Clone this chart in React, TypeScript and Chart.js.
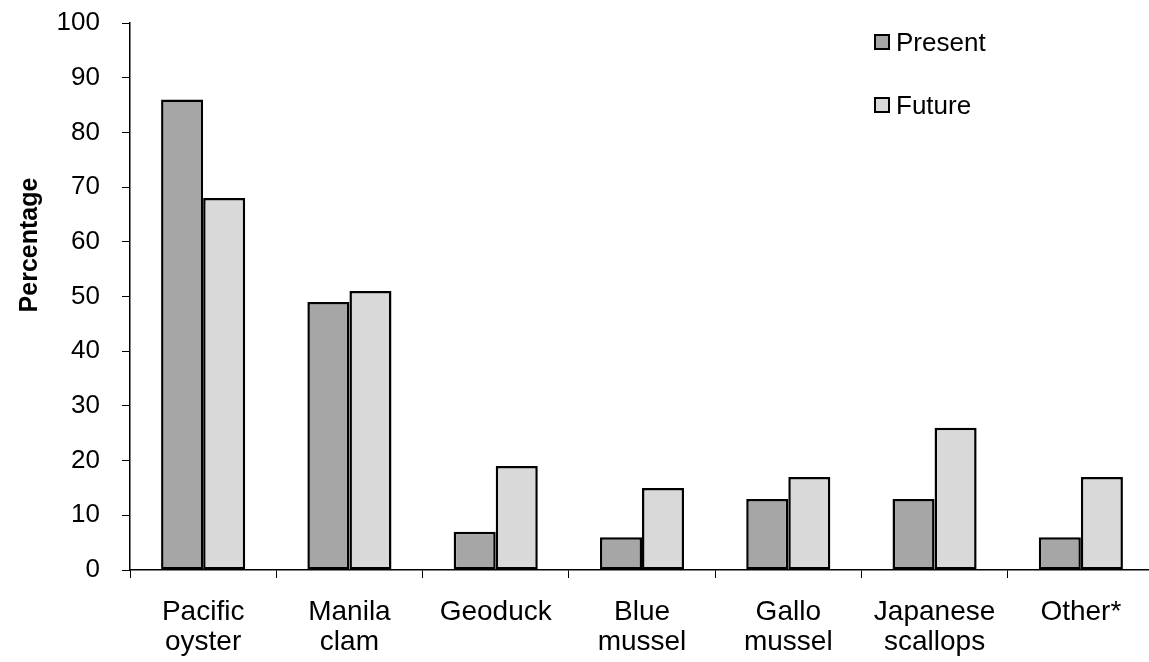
import React, { useEffect, useRef } from "react";
import { Chart, registerables } from "chart.js";

Chart.register(...registerables);

const categories: string[][] = [
  ["Pacific", "oyster"],
  ["Manila", "clam"],
  ["Geoduck"],
  ["Blue", "mussel"],
  ["Gallo", "mussel"],
  ["Japanese", "scallops"],
  ["Other*"],
];
const presentValues = [86, 49, 7, 6, 13, 13, 6];
const futureValues = [68, 51, 19, 15, 17, 26, 17];
const seriesNames = ["Present", "Future"];
const seriesColors = ["#a6a6a6", "#d9d9d9"];
const yAxisTitle = "Percentage";

const FONT = "'Liberation Sans', Arial, Helvetica, sans-serif";

// Legend boxes and y-axis title drawn directly on the canvas
const decorations = {
  id: "decorations",
  afterDraw(chart: Chart) {
    const ctx = chart.ctx;
    ctx.save();
    // axis title, rotated
    ctx.font = `bold 25px ${FONT}`;
    ctx.fillStyle = "#000";
    ctx.textAlign = "center";
    ctx.textBaseline = "alphabetic";
    ctx.translate(37, 245);
    ctx.rotate(-Math.PI / 2);
    ctx.fillText(yAxisTitle, 0, 0);
    ctx.restore();

    ctx.save();
    const rows = [
      { y: 35, base: 51 },
      { y: 98, base: 114 },
    ];
    seriesNames.forEach((name, i) => {
      const r = rows[i];
      ctx.fillStyle = seriesColors[i];
      ctx.fillRect(875, r.y, 14, 14);
      ctx.lineWidth = 2;
      ctx.strokeStyle = "#000";
      ctx.strokeRect(875, r.y, 14, 14);
      ctx.font = `26px ${FONT}`;
      ctx.fillStyle = "#000";
      ctx.textAlign = "left";
      ctx.textBaseline = "alphabetic";
      ctx.fillText(name, 896, r.base);
    });
    ctx.restore();
  },
};

export default function App() {
  const canvasRef = useRef<HTMLCanvasElement | null>(null);

  useEffect(() => {
    const canvas = canvasRef.current;
    if (!canvas) return;
    const chart = new Chart(canvas, {
      type: "bar",
      data: {
        labels: categories,
        datasets: [
          {
            label: seriesNames[0],
            data: presentValues,
            backgroundColor: seriesColors[0],
            borderColor: "#000",
            borderWidth: 2.5,
            borderSkipped: false,
          },
          {
            label: seriesNames[1],
            data: futureValues,
            backgroundColor: seriesColors[1],
            borderColor: "#000",
            borderWidth: 2.5,
            borderSkipped: false,
          },
        ],
      },
      options: {
        responsive: false,
        animation: false,
        devicePixelRatio: 1,
        layout: { padding: 0 },
        datasets: {
          bar: { categoryPercentage: 0.575, barPercentage: 1 },
        },
        plugins: {
          legend: { display: false },
          tooltip: { enabled: false },
          title: { display: false },
        },
        scales: {
          x: {
            offset: true,
            grid: {
              offset: true,
              drawOnChartArea: false,
              drawTicks: true,
              tickLength: 8,
              color: "#000",
              lineWidth: 1,
            },
            border: { display: true, color: "#000", width: 1.5 },
            ticks: {
              color: "#000",
              font: { family: FONT, size: 28, lineHeight: 30 / 28 },
              padding: 19,
              maxRotation: 0,
              autoSkip: false,
            },
            afterFit(scale: any) {
              scale.height = 92;
            },
          },
          y: {
            min: 0,
            max: 100,
            grid: {
              drawOnChartArea: false,
              drawTicks: true,
              tickLength: 8,
              color: "#000",
              lineWidth: 1,
            },
            border: { display: true, color: "#000", width: 1.5 },
            ticks: {
              stepSize: 10,
              color: "#000",
              font: { family: FONT, size: 26 },
              padding: 22,
            },
            afterFit(scale: any) {
              scale.width = 130;
              scale.paddingTop = 23;
              scale.paddingBottom = 0;
            },
          },
        },
      },
      plugins: [decorations],
    });
    return () => chart.destroy();
  }, []);

  return (
    <div
      style={{
        position: "absolute",
        left: 0,
        top: 0,
        width: 1149,
        height: 662,
        overflow: "hidden",
        background: "#fff",
      }}
    >
      <canvas
        ref={canvasRef}
        width={1154}
        height={662}
        style={{ display: "block", width: 1154, height: 662 }}
      />
    </div>
  );
}
